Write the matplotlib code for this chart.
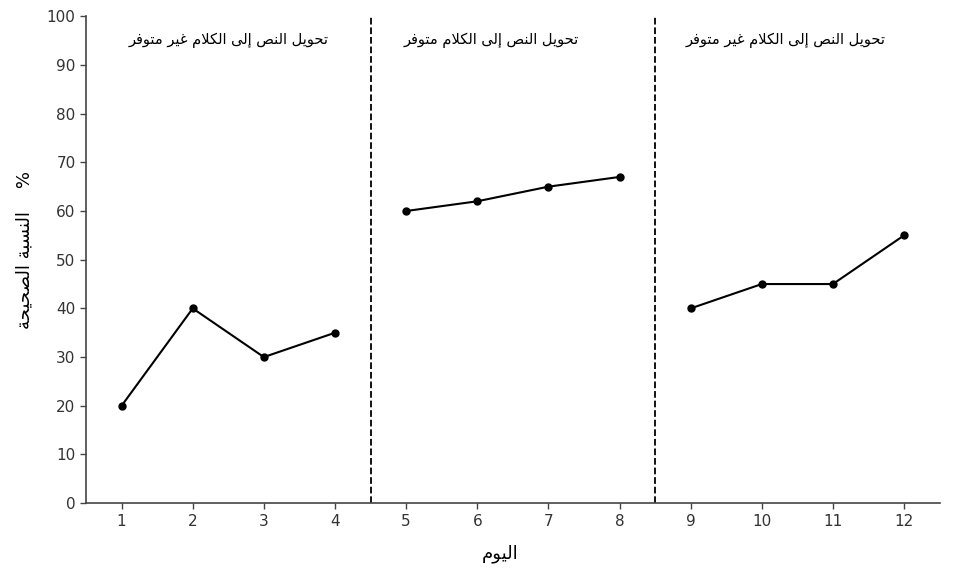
import matplotlib
matplotlib.use('Agg')
import matplotlib.pyplot as plt

# ─── DATOS ───────────────────────────────────────────────────
dias_a = [1, 2, 3, 4]
valores_a = [20, 40, 30, 35]
dias_b = [5, 6, 7, 8]
valores_b = [60, 62, 65, 67]
dias_c = [9, 10, 11, 12]
valores_c = [40, 45, 45, 55]

fases = ['تحويل النص إلى الكلام غير متوفر',
         'تحويل النص إلى الكلام متوفر',
         'تحويل النص إلى الكلام غير متوفر']
xlabel = 'اليوم'
ylabel = 'النسبة الصحيحة'

# ─── FORMAS ÁRABES (matplotlib no hace shaping) ──────────────
# letra: (aislada, final, inicial, media)
FORMAS = {
    'ا': (0xFE8D, 0xFE8E), 'إ': (0xFE87, 0xFE88), 'ة': (0xFE93, 0xFE94),
    'ر': (0xFEAD, 0xFEAE), 'و': (0xFEED, 0xFEEE), 'ى': (0xFEEF, 0xFEF0),
    'ب': (0xFE8F, 0xFE90, 0xFE91, 0xFE92), 'ت': (0xFE95, 0xFE96, 0xFE97, 0xFE98),
    'ح': (0xFEA1, 0xFEA2, 0xFEA3, 0xFEA4), 'س': (0xFEB1, 0xFEB2, 0xFEB3, 0xFEB4),
    'ص': (0xFEB9, 0xFEBA, 0xFEBB, 0xFEBC), 'غ': (0xFECD, 0xFECE, 0xFECF, 0xFED0),
    'ف': (0xFED1, 0xFED2, 0xFED3, 0xFED4), 'ك': (0xFED9, 0xFEDA, 0xFEDB, 0xFEDC),
    'ل': (0xFEDD, 0xFEDE, 0xFEDF, 0xFEE0), 'م': (0xFEE1, 0xFEE2, 0xFEE3, 0xFEE4),
    'ن': (0xFEE5, 0xFEE6, 0xFEE7, 0xFEE8), 'ي': (0xFEF1, 0xFEF2, 0xFEF3, 0xFEF4),
}
LAM_ALEF = {'ا': (0xFEFB, 0xFEFC), 'إ': (0xFEF9, 0xFEFA)}


def arabe(texto):
    letras = []
    i = 0
    while i < len(texto):
        c = texto[i]
        if c == 'ل' and i + 1 < len(texto) and texto[i + 1] in LAM_ALEF:
            letras.append(('LA', texto[i + 1]))
            i += 2
        else:
            letras.append((c, None))
            i += 1
    out = []
    for k, (c, extra) in enumerate(letras):
        prev = letras[k - 1][0] if k > 0 else None
        nxt = letras[k + 1][0] if k + 1 < len(letras) else None
        une_prev = prev in FORMAS and len(FORMAS[prev]) == 4
        if c == 'LA':
            out.append(chr(LAM_ALEF[extra][1 if une_prev else 0]))
            continue
        if c not in FORMAS:
            out.append(c)
            continue
        f = FORMAS[c]
        une_sig = len(f) == 4 and (nxt in FORMAS or nxt == 'LA')
        if une_prev and une_sig:
            out.append(chr(f[3]))
        elif une_sig:
            out.append(chr(f[2]))
        elif une_prev:
            out.append(chr(f[1]))
        else:
            out.append(chr(f[0]))
    return ''.join(out)[::-1]


# ─── ESTILO ──────────────────────────────────────────────────
plt.rcParams.update({
    'font.family': ['DejaVu Sans'],
    'axes.spines.top': False,
    'axes.spines.right': False,
    'axes.edgecolor': '#444444',
    'xtick.color': '#444444',
    'ytick.color': '#444444',
    'xtick.labelcolor': '#333333',
    'ytick.labelcolor': '#333333',
})

fig = plt.figure(figsize=(9.58, 5.81), dpi=100)
ax = fig.add_axes([0.0898, 0.134, 0.891, 0.838])

for dias, valores in [(dias_a, valores_a), (dias_b, valores_b), (dias_c, valores_c)]:
    ax.plot(dias, valores, color='black', linewidth=1.5, marker='o', markersize=5)

ax.axvline(4.5, color='black', linestyle='--', linewidth=1.3)
ax.axvline(8.5, color='black', linestyle='--', linewidth=1.3)

for xpos, texto in zip([2.5, 6.2, 10.33], fases):
    ax.text(xpos, 95, arabe(texto), ha='center', va='center', fontsize=10.5, color='black')

ax.set_xlim(0.5, 12.5)
ax.set_ylim(0, 100)
ax.set_xticks(range(1, 13))
ax.set_yticks(range(0, 101, 10))
ax.tick_params(direction='out', length=4, width=1, labelsize=11)
ax.spines['left'].set_linewidth(1.2)
ax.spines['bottom'].set_linewidth(1.2)

ax.set_xlabel(arabe(xlabel), fontsize=13)
ax.xaxis.set_label_coords(0.485, -0.085)
ax.set_ylabel(arabe(ylabel) + '    %', fontsize=13)
ax.yaxis.set_label_coords(-0.062, 0.52)

fig.savefig('out.png', dpi=100)
